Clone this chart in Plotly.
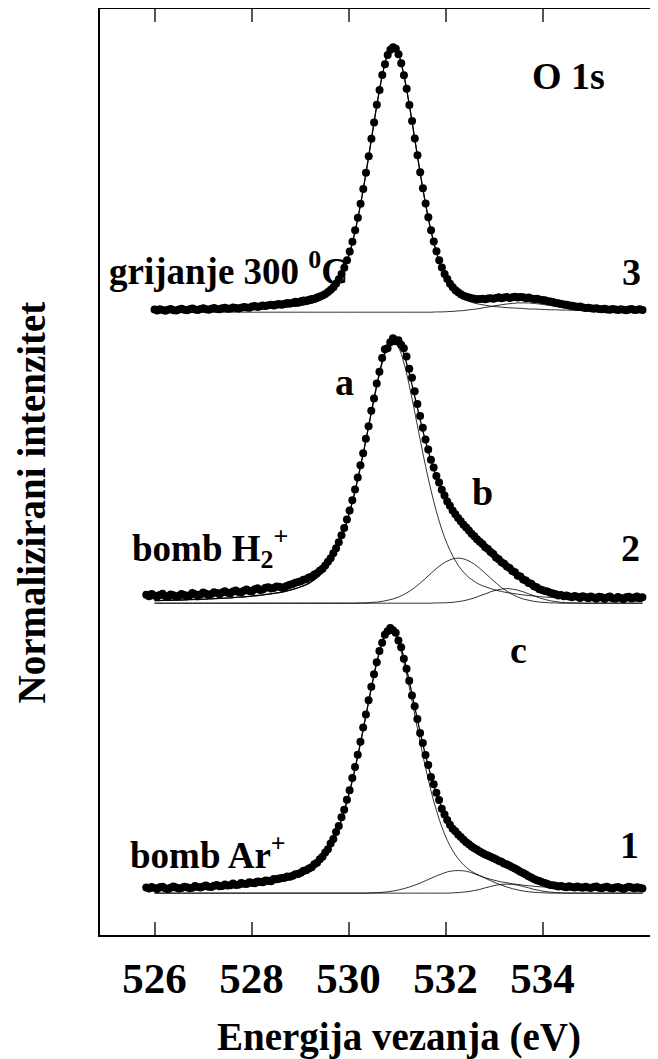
import numpy as np
import plotly.graph_objects as go

# ---------------- data (normalised intensities) ----------------
DATA_START = [525.83, 525.83, 526.00]   # first energy of each measured series (eV)
DATA_STEP = 0.0559                      # sampling step of the measured points (eV)
FIT_START = 526.0
FIT_STEP = 0.1118
OFFSETS = [0.0, 1.094, 2.192]           # vertical stacking of the three spectra
X_TICKS = [526, 528, 530, 532, 534]

# spectrum 1 : bomb Ar+
spec1 = [0.021, 0.017, 0.023,
         0.019, 0.016, 0.022, 0.024, 0.018, 0.015, 0.020, 0.025, 0.021, 0.017,
         0.019, 0.024, 0.022, 0.018, 0.020, 0.027, 0.023, 0.021, 0.025, 0.029,
         0.024, 0.023, 0.028, 0.031, 0.026, 0.027, 0.033, 0.029, 0.030, 0.036,
         0.031, 0.032, 0.038, 0.035, 0.034, 0.041, 0.039, 0.037, 0.044, 0.043,
         0.041, 0.048, 0.047, 0.045, 0.053, 0.052, 0.055, 0.057, 0.058, 0.063,
         0.062, 0.066, 0.071, 0.072, 0.077, 0.084, 0.086, 0.093, 0.098, 0.109,
         0.115, 0.128, 0.137, 0.153, 0.166, 0.187, 0.204, 0.231, 0.253, 0.286,
         0.315, 0.352, 0.388, 0.434, 0.476, 0.522, 0.571, 0.625, 0.674, 0.728,
         0.779, 0.826, 0.871, 0.914, 0.945, 0.975, 0.988, 1.000, 0.992, 0.982,
         0.953, 0.928, 0.884, 0.847, 0.801, 0.746, 0.705, 0.657, 0.604, 0.566,
         0.521, 0.483, 0.438, 0.411, 0.379, 0.351, 0.318, 0.297, 0.276, 0.258,
         0.243, 0.233, 0.221, 0.212, 0.201, 0.192, 0.184, 0.176, 0.169, 0.164,
         0.157, 0.151, 0.146, 0.142, 0.137, 0.133, 0.128, 0.122, 0.118, 0.112,
         0.108, 0.103, 0.098, 0.093, 0.087, 0.081, 0.076, 0.070, 0.064, 0.059,
         0.053, 0.049, 0.046, 0.041, 0.038, 0.034, 0.031, 0.030, 0.028, 0.025,
         0.027, 0.024, 0.022, 0.026, 0.023, 0.021, 0.025, 0.022, 0.020, 0.024,
         0.021, 0.019, 0.023, 0.025, 0.020, 0.018, 0.022, 0.024, 0.019, 0.017,
         0.021, 0.023, 0.019, 0.016, 0.020, 0.024, 0.021, 0.018, 0.022, 0.020,
         0.017]

# spectrum 2 : bomb H2+
spec2 = [0.032, 0.026, 0.035,
         0.029, 0.024, 0.031, 0.036, 0.027, 0.025, 0.033, 0.030, 0.024, 0.028,
         0.035, 0.031, 0.026, 0.030, 0.038, 0.034, 0.029, 0.033, 0.040, 0.036,
         0.031, 0.035, 0.041, 0.038, 0.034, 0.040, 0.045, 0.039, 0.037, 0.044,
         0.048, 0.042, 0.040, 0.047, 0.052, 0.046, 0.045, 0.053, 0.056, 0.050,
         0.052, 0.058, 0.060, 0.055, 0.057, 0.063, 0.062, 0.058, 0.061, 0.066,
         0.070, 0.072, 0.077, 0.080, 0.083, 0.088, 0.090, 0.097, 0.100, 0.108,
         0.113, 0.122, 0.130, 0.142, 0.156, 0.170, 0.188, 0.207, 0.230, 0.256,
         0.284, 0.316, 0.350, 0.388, 0.429, 0.474, 0.520, 0.566, 0.620, 0.668,
         0.726, 0.772, 0.829, 0.873, 0.925, 0.958, 0.962, 0.985, 1.000, 0.988,
         0.992, 0.975, 0.962, 0.931, 0.885, 0.851, 0.800, 0.752, 0.706, 0.662,
         0.618, 0.580, 0.541, 0.512, 0.480, 0.455, 0.428, 0.406, 0.384, 0.368,
         0.350, 0.336, 0.321, 0.309, 0.296, 0.286, 0.274, 0.262, 0.253, 0.241,
         0.232, 0.223, 0.211, 0.204, 0.193, 0.186, 0.172, 0.166, 0.154, 0.149,
         0.138, 0.133, 0.121, 0.117, 0.104, 0.101, 0.089, 0.086, 0.076, 0.073,
         0.064, 0.060, 0.053, 0.050, 0.046, 0.044, 0.039, 0.037, 0.034, 0.029,
         0.031, 0.026, 0.029, 0.025, 0.022, 0.027, 0.024, 0.020, 0.026, 0.023,
         0.019, 0.025, 0.021, 0.017, 0.024, 0.022, 0.016, 0.021, 0.025, 0.019,
         0.017, 0.023, 0.020, 0.015, 0.022, 0.024, 0.018, 0.021, 0.025, 0.019,
         0.022]

# spectrum 3 : grijanje 300 C
spec3 = [0.010, 0.006, 0.011, 0.008, 0.005, 0.009, 0.012, 0.007, 0.006, 0.010,
         0.013, 0.009, 0.007, 0.011, 0.014, 0.010, 0.008, 0.012, 0.015, 0.011,
         0.009, 0.013, 0.016, 0.012, 0.011, 0.015, 0.017, 0.013, 0.014, 0.018,
         0.016, 0.014, 0.017, 0.020, 0.018, 0.017, 0.021, 0.023, 0.020, 0.022,
         0.025, 0.023, 0.026, 0.028, 0.025, 0.029, 0.031, 0.028, 0.032, 0.035,
         0.033, 0.036, 0.039, 0.037, 0.041, 0.044, 0.043, 0.047, 0.050, 0.051,
         0.055, 0.059, 0.063, 0.069, 0.076, 0.085, 0.094, 0.108, 0.124, 0.144,
         0.168, 0.196, 0.229, 0.266, 0.309, 0.356, 0.409, 0.465, 0.526, 0.588,
         0.654, 0.716, 0.783, 0.838, 0.895, 0.936, 0.970, 0.990, 1.000, 0.994,
         0.973, 0.939, 0.894, 0.843, 0.782, 0.721, 0.655, 0.592, 0.528, 0.468,
         0.410, 0.358, 0.309, 0.267, 0.230, 0.196, 0.169, 0.144, 0.125, 0.107,
         0.094, 0.083, 0.075, 0.068, 0.062, 0.058, 0.055, 0.053, 0.051, 0.049,
         0.050, 0.051, 0.049, 0.052, 0.053, 0.051, 0.054, 0.056, 0.053, 0.055,
         0.057, 0.054, 0.056, 0.058, 0.055, 0.057, 0.056, 0.053, 0.055, 0.052,
         0.050, 0.051, 0.048, 0.046, 0.045, 0.041, 0.040, 0.038, 0.035, 0.034,
         0.031, 0.029, 0.028, 0.025, 0.024, 0.022, 0.020, 0.021, 0.018, 0.016,
         0.017, 0.015, 0.013, 0.015, 0.012, 0.011, 0.013, 0.010, 0.009, 0.012,
         0.010, 0.008, 0.011, 0.009, 0.007, 0.010, 0.012, 0.008, 0.009, 0.011,
         0.008]

# fitted components (FIT_START onwards, step FIT_STEP)
fit1_a = [0.010, 0.010, 0.011, 0.011, 0.012, 0.013, 0.013, 0.014, 0.015, 0.016,
          0.017, 0.018, 0.019, 0.020, 0.021, 0.023, 0.024, 0.026, 0.028, 0.030,
          0.033, 0.035, 0.039, 0.042, 0.047, 0.052, 0.058, 0.066, 0.076, 0.089,
          0.107, 0.130, 0.160, 0.199, 0.249, 0.311, 0.385, 0.472, 0.568, 0.672,
          0.775, 0.870, 0.944, 0.985, 0.985, 0.944, 0.870, 0.775, 0.672, 0.568,
          0.472, 0.385, 0.311, 0.249, 0.199, 0.160, 0.130, 0.107, 0.089, 0.076,
          0.066, 0.058, 0.052, 0.047, 0.042, 0.039, 0.035, 0.033, 0.030, 0.028,
          0.026, 0.024, 0.023, 0.021, 0.020, 0.019, 0.018, 0.017, 0.016, 0.015,
          0.014, 0.013, 0.013, 0.012, 0.011, 0.011, 0.010, 0.010, 0.010, 0.009,
          0.009]
fit1_b = [0.0] * 40 + [
          0.001, 0.002, 0.003, 0.005, 0.008, 0.012, 0.017, 0.023, 0.030, 0.038,
          0.047, 0.056, 0.065, 0.073, 0.080, 0.084, 0.085, 0.084, 0.080, 0.073,
          0.065, 0.056, 0.047, 0.038, 0.030, 0.023, 0.017, 0.012, 0.008, 0.005,
          0.003, 0.002, 0.001] + [0.0] * 18
fit1_c = [0.0] * 55 + [
          0.001, 0.002, 0.004, 0.006, 0.010, 0.014, 0.020, 0.025, 0.030, 0.033,
          0.034, 0.033, 0.030, 0.025, 0.020, 0.014, 0.010, 0.006, 0.004, 0.002,
          0.001] + [0.0] * 15

fit2_a = [0.010, 0.010, 0.011, 0.011, 0.012, 0.012, 0.013, 0.014, 0.014, 0.015,
          0.016, 0.017, 0.018, 0.019, 0.020, 0.022, 0.023, 0.025, 0.027, 0.029,
          0.031, 0.034, 0.037, 0.040, 0.044, 0.049, 0.055, 0.062, 0.070, 0.082,
          0.097, 0.117, 0.143, 0.178, 0.222, 0.277, 0.345, 0.425, 0.516, 0.616,
          0.720, 0.820, 0.906, 0.964, 0.985, 0.964, 0.906, 0.820, 0.720, 0.616,
          0.516, 0.425, 0.345, 0.277, 0.222, 0.178, 0.143, 0.117, 0.097, 0.082,
          0.070, 0.062, 0.055, 0.049, 0.044, 0.040, 0.037, 0.034, 0.031, 0.029,
          0.027, 0.025, 0.023, 0.022, 0.020, 0.019, 0.018, 0.017, 0.016, 0.015,
          0.014, 0.014, 0.013, 0.012, 0.012, 0.011, 0.011, 0.010, 0.010, 0.009,
          0.009]
fit2_b = [0.0] * 38 + [
          0.001, 0.001, 0.003, 0.004, 0.007, 0.011, 0.016, 0.023, 0.033, 0.045,
          0.059, 0.076, 0.094, 0.113, 0.131, 0.147, 0.159, 0.167, 0.170, 0.167,
          0.159, 0.147, 0.131, 0.113, 0.094, 0.076, 0.059, 0.045, 0.033, 0.023,
          0.016, 0.011, 0.007, 0.004, 0.003, 0.001, 0.001] + [0.0] * 16
fit2_c = [0.0] * 52 + [
          0.001, 0.001, 0.002, 0.003, 0.006, 0.009, 0.014, 0.020, 0.028, 0.035,
          0.043, 0.049, 0.053, 0.055, 0.053, 0.049, 0.043, 0.035, 0.028, 0.020,
          0.014, 0.009, 0.006, 0.003, 0.002, 0.001, 0.001] + [0.0] * 12

fit3_a = [0.004, 0.004, 0.005, 0.005, 0.005, 0.005, 0.006, 0.006, 0.006, 0.007,
          0.007, 0.007, 0.008, 0.008, 0.009, 0.009, 0.010, 0.011, 0.012, 0.012,
          0.014, 0.015, 0.016, 0.017, 0.019, 0.021, 0.023, 0.026, 0.030, 0.034,
          0.041, 0.051, 0.065, 0.086, 0.118, 0.163, 0.225, 0.306, 0.407, 0.525,
          0.653, 0.781, 0.893, 0.972, 1.000, 0.972, 0.893, 0.781, 0.653, 0.525,
          0.407, 0.306, 0.225, 0.163, 0.118, 0.086, 0.065, 0.051, 0.041, 0.034,
          0.030, 0.026, 0.023, 0.021, 0.019, 0.017, 0.016, 0.015, 0.014, 0.012,
          0.012, 0.011, 0.010, 0.009, 0.009, 0.008, 0.008, 0.007, 0.007, 0.007,
          0.006, 0.006, 0.006, 0.005, 0.005, 0.005, 0.005, 0.004, 0.004, 0.004,
          0.004]
fit3_d = [0.0] * 52 + [
          0.001, 0.001, 0.002, 0.003, 0.005, 0.006, 0.009, 0.011, 0.014, 0.018,
          0.021, 0.025, 0.028, 0.031, 0.033, 0.035, 0.035, 0.035, 0.033, 0.031,
          0.028, 0.025, 0.021, 0.018, 0.014, 0.011, 0.009, 0.006, 0.005, 0.003,
          0.002, 0.001, 0.001] + [0.0] * 6

SPECTRA = [(spec1, [fit1_a, fit1_b, fit1_c]),
           (spec2, [fit2_a, fit2_b, fit2_c]),
           (spec3, [fit3_a, fit3_d])]

FONT = "Liberation Serif"


def grid(start, step, n):
    return np.round(start + step * np.arange(n), 4)


fig = go.Figure()
for k, (data, comps) in enumerate(SPECTRA):
    off = OFFSETS[k]
    xf = grid(FIT_START, FIT_STEP, len(comps[0]))
    for comp in comps:
        fig.add_trace(go.Scatter(x=xf, y=np.array(comp) + off, mode="lines",
                                 line=dict(color="black", width=0.8, shape="spline"),
                                 hoverinfo="skip", showlegend=False))
    env = np.sum(np.array(comps), axis=0) + off
    fig.add_trace(go.Scatter(x=xf, y=env, mode="lines",
                             line=dict(color="black", width=1.3, shape="spline"),
                             hoverinfo="skip", showlegend=False))
    xd = grid(DATA_START[k], DATA_STEP, len(data))
    fig.add_trace(go.Scatter(x=xd, y=np.array(data) + off, mode="markers",
                             marker=dict(color="black", size=8),
                             showlegend=False))

# the page body adds an 8px margin, so the figure is 650 x 1051
fig.update_layout(width=650, height=1051,
                  margin=dict(l=92, r=0, t=1, b=124),
                  plot_bgcolor="white", paper_bgcolor="white",
                  showlegend=False)
fig.update_xaxes(range=[524.876, 536.381], tickvals=X_TICKS,
                 ticktext=[str(t) for t in X_TICKS],
                 ticks="inside", ticklen=13, tickwidth=1.5, tickcolor="#555555",
                 showline=True, linecolor="black", linewidth=1.5, mirror="ticks",
                 showgrid=False, zeroline=False,
                 tickfont=dict(family=FONT, size=43, color="black", weight="bold"),
                 ticklabelstandoff=5)
fig.update_yaxes(range=[-0.158, 3.336], showline=True, linecolor="black",
                 linewidth=1.5, showticklabels=False, ticks="",
                 showgrid=False, zeroline=False)

LABELS = [
    ("O 1s", 534.526, 3.083, "center", 38),
    ("3", 535.825, 2.343, "center", 38),
    ("2", 535.804, 1.302, "center", 38),
    ("1", 535.784, 0.181, "center", 38),
    ("a", 529.907, 1.928, "center", 38),
    ("b", 532.753, 1.513, "center", 38),
    ("c", 533.495, 0.917, "center", 38),
    ("grijanje 300 <sup>0</sup>C", 525.021, 2.355, "left", 37),
    ("bomb H<sub>2</sub><sup>+</sup>", 525.495, 1.302, "left", 37),
    ("bomb Ar<sup>+</sup>", 525.454, 0.155, "left", 37),
]
for text, x, y, anchor, size in LABELS:
    fig.add_annotation(x=x, y=y, xref="x", yref="y", text=text, showarrow=False,
                       xanchor=anchor, yanchor="middle",
                       font=dict(family=FONT, size=size, color="black", weight="bold"))

fig.add_annotation(x=0.535, y=-0.110, xref="paper", yref="paper",
                   text="Energija vezanja (eV)", showarrow=False,
                   xanchor="center", yanchor="middle",
                   font=dict(family=FONT, size=39, color="black", weight="bold"))
fig.add_annotation(x=-0.122, y=0.467, xref="paper", yref="paper",
                   text="Normalizirani intenzitet", showarrow=False, textangle=-90,
                   xanchor="center", yanchor="middle",
                   font=dict(family=FONT, size=39, color="black", weight="bold"))

fig.write_html("out.html")
